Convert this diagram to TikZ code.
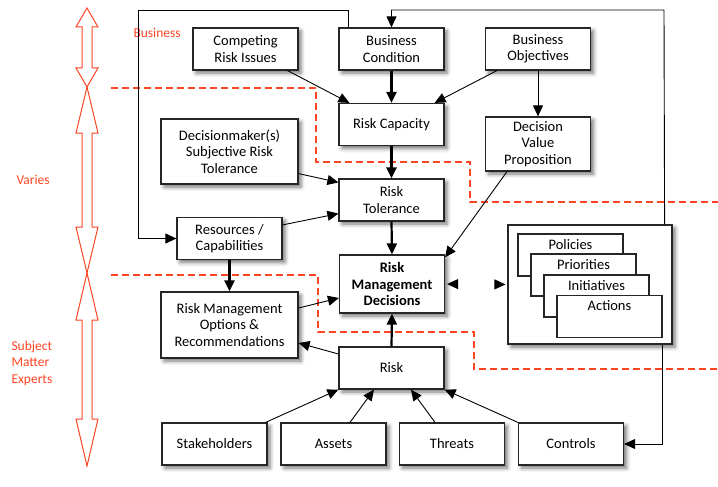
\documentclass[tikz,border=0pt]{standalone}
\usepackage{fontspec}
\setmainfont{Carlito}
\usetikzlibrary{calc}
\usetikzlibrary{arrows.meta}
\usetikzlibrary{shadows.blur}
\definecolor{smered}{RGB}{255,68,36}

\newcommand{\spanarrow}[3]{\draw[smered, line width=1pt] (87,#1) -- (98,#1+#3) -- (92,#1+#3) -- (92,#2-#3) -- (98,#2-#3) -- (87,#2) -- (76,#2-#3) -- (82,#2-#3) -- (82,#1+#3) -- (76,#1+#3) -- cycle;}

\begin{document}
\begin{tikzpicture}[x=1pt, y=-1pt,
  box/.style={draw=black!85, line width=1.2pt, fill=white, align=center, minimum width=105pt, minimum height=42pt, font=\fontsize{14.5}{16.5}\selectfont, blur shadow={shadow xshift=3pt, shadow yshift=-3pt, shadow blur radius=4pt, shadow opacity=55}},
  stackbox/.style={draw=black!85, line width=1.2pt, fill=white, minimum width=105pt, minimum height=42pt, inner ysep=3pt, text depth=22pt, font=\fontsize{14.5}{16.5}\selectfont},
  flow/.style={-{Triangle[length=11pt, width=10pt]}, line width=0.9pt},
  mainflow/.style={-{Triangle[length=11pt, width=10pt]}, line width=2.2pt},
  zone/.style={smered, line width=1.2pt, dash pattern=on 7pt off 4pt},
  zonelabel/.style={text=smered, font=\fontsize{13.5}{16.5}\selectfont, align=left, anchor=west}]

\useasboundingbox (0,0) rectangle (718,487);

\draw[zone] (111,88) -- (316,88) -- (316,162) -- (470,162) -- (470,202) -- (718,202);
\draw[zone] (111,275) -- (318,275) -- (318,332) -- (474,332) -- (474,369) -- (718,369);

\spanarrow{8}{87}{19}
\spanarrow{87}{273}{46}
\spanarrow{273}{466}{47}

\node[zonelabel] (BIZ) at (130,33) {Business};
\node[zonelabel] (VAR) at (13,180) {Varies};
\node[zonelabel] (SME) at (8,363) {Subject\\Matter\\Experts};

\coordinate (TOPL) at (138,10);
\coordinate (TOPR) at (664,10);

\node[box] (CRI) at (245.5,49) {Competing\\Risk Issues};
\node[box] (BC) at (391.5,49) {Business\\Condition};
\node[box] (BO) at (538,49) {Business\\Objectives};
\node[box] (RC) at (391.5,124.5) {Risk Capacity};
\node[box, minimum height=54pt] (DVP) at (538,144) {Decision\\Value\\Proposition};
\node[box, minimum width=137pt, minimum height=65pt] (DSRT) at (229.5,151.5) {Decisionmaker(s)\\Subjective Risk\\Tolerance};
\node[box] (RT) at (391.5,200) {Risk\\Tolerance};
\node[box] (RES) at (229.5,238.5) {Resources /\\Capabilities};
\node[box, minimum height=58pt, font=\fontsize{14.5}{16.5}\selectfont\bfseries] (RMD) at (392,284) {Risk\\Management\\Decisions};
\node[box, minimum width=137pt, minimum height=66pt] (RMO) at (229.5,325) {Risk Management\\Options \&\\Recommendations};
\node[box] (RISK) at (391.5,368) {Risk};
\node[box] (SH) at (214.5,444) {Stakeholders};
\node[box] (AS) at (333.5,444) {Assets};
\node[box] (TH) at (452,444) {Threats};
\node[box] (CT) at (571,444) {Controls};

\node[box, minimum width=164pt, minimum height=119pt] (BOX) at (590,284.5) {};
\node[stackbox] (POL) at (570.5,255) {Policies};
\node[stackbox] (PRI) at (583.5,275) {Priorities};
\node[stackbox] (INI) at (596.5,296) {Initiatives};
\node[stackbox] (ACT) at (609.5,316.5) {Actions};

\draw[flow] ([xshift=10]BC.north west) |- (TOPL) |- (RES.west);
\draw[flow] ([xshift=-8]BOX.north east) -- (TOPR) -| (BC.north);
\draw[flow] ([xshift=-10]BOX.south east) |- (CT.east);

\draw[flow] ([xshift=-11]CRI.south east) -- ([xshift=11]RC.north west);
\draw[mainflow] (BC.south) -- (RC.north);
\draw[flow] ([xshift=12]BO.south west) -- ([xshift=-10]RC.north east);
\draw[flow] (BO.south) -- (DVP.north);
\draw[mainflow] (RC.south) -- (RT.north);
\draw[flow] ([yshift=11]DSRT.south east) -- ([yshift=-4]RT.north west);
\draw[flow] ([yshift=-8]RES.north east) -- ([yshift=8]RT.south west);
\draw[mainflow] (RT.south) -- (RMD.north);
\draw[flow] ([xshift=-31]DVP.south) -- ([yshift=-3]RMD.north east);
\draw[mainflow] (RES.south) -- (RMO.north);
\draw[flow] ([yshift=17]RMO.east) -- ([yshift=-14]RMD.west);
\draw[mainflow] (RISK.north) -- (RMD.south);
\draw[flow] ([yshift=14]RISK.west) -- ([yshift=-18]RMO.east);
\draw[{Triangle[length=11pt, width=10pt]}-{Triangle[length=11pt, width=10pt]}, line width=0.9pt, dash pattern=on 0pt off 300pt, shorten <=2pt, shorten >=2pt] (RMD.east) -- (BOX.west);

\draw[flow] ([xshift=-2]SH.north east) -- (RISK.south west);
\draw[flow] ([xshift=16.5]AS.north) -- ([xshift=-17.5]RISK.south);
\draw[flow] ([xshift=-17]TH.north) -- ([xshift=19.5]RISK.south);
\draw[flow] (CT.north west) -- (RISK.south east);

\end{tikzpicture}
\end{document}
